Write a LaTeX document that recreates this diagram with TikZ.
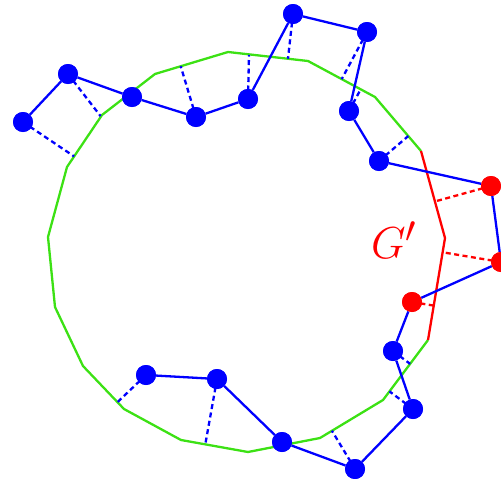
\documentclass[tikz,border=0pt]{standalone}
\usetikzlibrary{calc}
\definecolor{hullgreen}{RGB}{60,225,20}
\begin{document}
\begin{tikzpicture}[x=1pt,y=-1pt,
  hull/.style={draw=hullgreen,line width=2.3pt,line join=miter},
  redhull/.style={draw=red,line width=2.3pt},
  bedge/.style={draw=blue,line width=2.3pt},
  bdash/.style={draw=blue,line width=2.3pt,dash pattern=on 5pt off 3.5pt},
  rdash/.style={draw=red,line width=2.3pt,dash pattern=on 5pt off 3.5pt},
  bnode/.style={circle,fill=blue,inner sep=0pt,minimum size=20pt},
  rnode/.style={circle,fill=red,inner sep=0pt,minimum size=20pt}]
\useasboundingbox (0,0) rectangle (501,479);
\clip (0,0) rectangle (501,479);
% hull vertices
\coordinate (g1) at (421,151);
\coordinate (g2) at (375,97);
\coordinate (g3) at (308,61);
\coordinate (g4) at (228,52);
\coordinate (g5) at (155,74);
\coordinate (g6) at (102,115);
\coordinate (g7) at (67,167);
\coordinate (g8) at (48,237);
\coordinate (g9) at (55,307);
\coordinate (g10) at (83,366);
\coordinate (g11) at (124,409);
\coordinate (g12) at (181,440);
\coordinate (g13) at (248,452);
\coordinate (g14) at (320,438);
\coordinate (g15) at (383,400);
\coordinate (g16) at (428,340);
\coordinate (rm) at (445,238);
\draw[hull] (g1) -- (g2) -- (g3) -- (g4) -- (g5) -- (g6) -- (g7) -- (g8) -- (g9) -- (g10) -- (g11) -- (g12) -- (g13) -- (g14) -- (g15) -- (g16);
\draw[redhull] (g1) -- (rm) -- (g16);
% nodes
\node[bnode] (n1) at (23,122) {};
\node[bnode] (n2) at (68,74) {};
\node[bnode] (n3) at (132,97) {};
\node[bnode] (n4) at (196,117) {};
\node[bnode] (n5) at (248,99) {};
\node[bnode] (n6) at (293,14) {};
\node[bnode] (n7) at (367,32) {};
\node[bnode] (n8) at (349,111) {};
\node[bnode] (n9) at (379,161) {};
\node[rnode] (r1) at (491,186) {};
\node[rnode] (r2) at (501,262) {};
\node[rnode] (r3) at (412,302) {};
\node[bnode] (n10) at (393,351) {};
\node[bnode] (n11) at (413,409) {};
\node[bnode] (n12) at (355,469) {};
\node[bnode] (n13) at (282,442) {};
\node[bnode] (n14) at (217,379) {};
\node[bnode] (n15) at (146,375) {};
% dashed projections
\draw[bdash] (n1.center) -- ($(g6)!(n1.center)!(g7)$);
\draw[bdash] (n2.center) -- ($(g5)!(n2.center)!(g6)$);
\draw[bdash] (n4.center) -- ($(g4)!(n4.center)!(g5)$);
\draw[bdash] (n5.center) -- (249,55);
\draw[bdash] (n6.center) -- ($(g3)!(n6.center)!(g4)$);
\draw[bdash] (n7.center) -- ($(g2)!(n7.center)!(g3)$);
\draw[bdash] (n8.center) -- ($(g2)!(n8.center)!(g3)$);
\draw[bdash] (n9.center) -- ($(g1)!(n9.center)!(g2)$);
\draw[rdash] (r1.center) -- ($(g1)!(r1.center)!(rm)$);
\draw[rdash] (r2.center) -- ($(rm)!(r2.center)!(g16)$);
\draw[rdash] (r3.center) -- ($(rm)!(r3.center)!(g16)$);
\draw[bdash] (n10.center) -- ($(g15)!(n10.center)!(g16)$);
\draw[bdash] (n11.center) -- ($(g15)!(n11.center)!(g16)$);
\draw[bdash] (n12.center) -- ($(g14)!(n12.center)!(g15)$);
\draw[bdash] (n14.center) -- ($(g12)!(n14.center)!(g13)$);
\draw[bdash] (n15.center) -- ($(g10)!(n15.center)!(g11)$);
% solid path
\draw[bedge] (n1) -- (n2) -- (n3) -- (n4) -- (n5) -- (n6) -- (n7) -- (n8) -- (n9) -- (r1) -- (r2) -- (r3) -- (n10) -- (n11) -- (n12) -- (n13) -- (n14) -- (n15);
% redraw nodes on top
\foreach \n in {n1,n2,n3,n4,n5,n6,n7,n8,n9,n10,n11,n12,n13,n14,n15}
  \fill[blue] (\n.center) circle (10pt);
\foreach \n in {r1,r2,r3}
  \fill[red] (\n.center) circle (10pt);
\node[text=red,font=\Huge,scale=1.8] (lbl) at (394,240) {$G'$};
\end{tikzpicture}
\end{document}
